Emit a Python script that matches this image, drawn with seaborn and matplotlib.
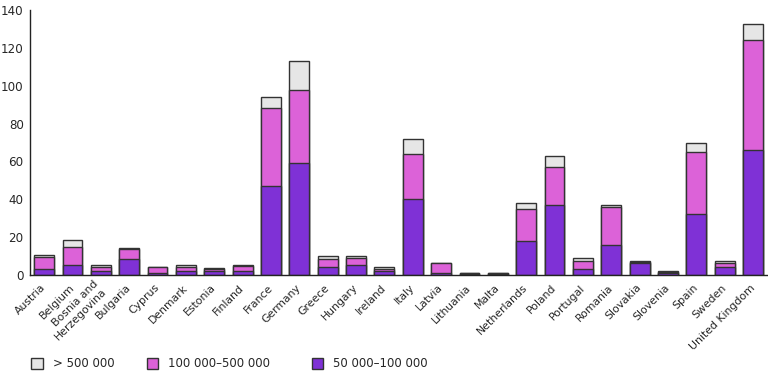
import numpy as np
import pandas as pd
import matplotlib.pyplot as plt
from matplotlib.patches import Patch
import seaborn as sns

countries = ['Austria', 'Belgium', 'Bosnia and\nHerzegovina', 'Bulgaria', 'Cyprus', 'Denmark',
             'Estonia', 'Finland', 'France', 'Germany', 'Greece', 'Hungary', 'Ireland', 'Italy',
             'Latvia', 'Lithuania', 'Malta', 'Netherlands', 'Poland', 'Portugal', 'Romania',
             'Slovakia', 'Slovenia', 'Spain', 'Sweden', 'United Kingdom']

# number of agglomerations per size class
small = [3, 5, 2.3, 8.2, 1.2, 2.3, 2.3, 2.3, 47, 59, 4.2, 5, 2.1, 40, 0.9, 0.3, 0.3,
         18, 37, 3, 15.6, 6.1, 1, 32, 4.2, 66]
medium = [6.5, 9.8, 1.7, 5.4, 3.1, 1.7, 0.8, 2.6, 41, 39, 4.1, 4.2, 0.9, 24, 5.2, 0.7, 0.7,
          17, 20, 4.1, 20.4, 0.7, 0.7, 33, 1.9, 58]
large = [0.8, 3.5, 1.2, 0.5, 0.1, 1.2, 0.4, 0.3, 6.3, 15, 1.7, 0.8, 1, 8, 0.1, 0.1, 0.1,
         3.1, 6, 2.1, 1.2, 0.3, 0.4, 4.7, 1, 8.6]

labels = ['> 500 000', '100 000\u2013500 000', '50 000\u2013100 000']
colors = ['#e6e6e6', '#dc62d8', '#7f31d6']

df = pd.DataFrame({'country': countries, 'small': small, 'medium': medium, 'large': large})
df['c1'] = df['small']
df['c2'] = df['small'] + df['medium']
df['c3'] = df['c2'] + df['large']

sns.set_style('white')
plt.rcParams['font.family'] = ['DejaVu Sans']

fig = plt.figure(figsize=(7.68, 3.72), dpi=100)
ax = fig.add_axes([0.039, 0.261, 0.96, 0.712])

for col, c in zip(['c3', 'c2', 'c1'], colors):
    sns.barplot(ax=ax, data=df, x='country', y=col, color=c, width=0.7,
                edgecolor='#333333', linewidth=1, saturation=1)

ax.set_xlim(-0.5, len(countries) - 0.5)
ax.set_ylim(0, 140)
ax.set_yticks(range(0, 141, 20))
ax.set_xlabel('')
ax.set_ylabel('')
sns.despine(ax=ax)
for s in ['left', 'bottom']:
    ax.spines[s].set_color('#222222')
    ax.spines[s].set_linewidth(1)

ax.set_xticks(range(len(countries)))
ax.set_xticklabels(countries, rotation=45, ha='right', va='center',
                   rotation_mode='anchor', fontsize=7.8)
ax.set_xticks(np.arange(-0.5, len(countries), 1), minor=True)
ax.tick_params(axis='x', which='major', length=0, pad=8)
ax.tick_params(axis='x', which='minor', length=5, width=1, color='#222222', direction='out')
ax.tick_params(axis='y', length=3, width=1, color='#222222', direction='out', labelsize=8.6, pad=1.5)

# legend entries placed one by one, like the original layout
xpos = [0.027, 0.177, 0.392]
for c, lab, x in zip(colors, labels, xpos):
    h = Patch(facecolor=c, edgecolor='#333333', linewidth=1)
    fig.legend([h], [lab], loc='lower left', bbox_to_anchor=(x, -0.024),
               frameon=False, fontsize=8.5, handlelength=1.0, handleheight=1.0,
               handletextpad=0.8)

fig.savefig('out.png', dpi=100)
